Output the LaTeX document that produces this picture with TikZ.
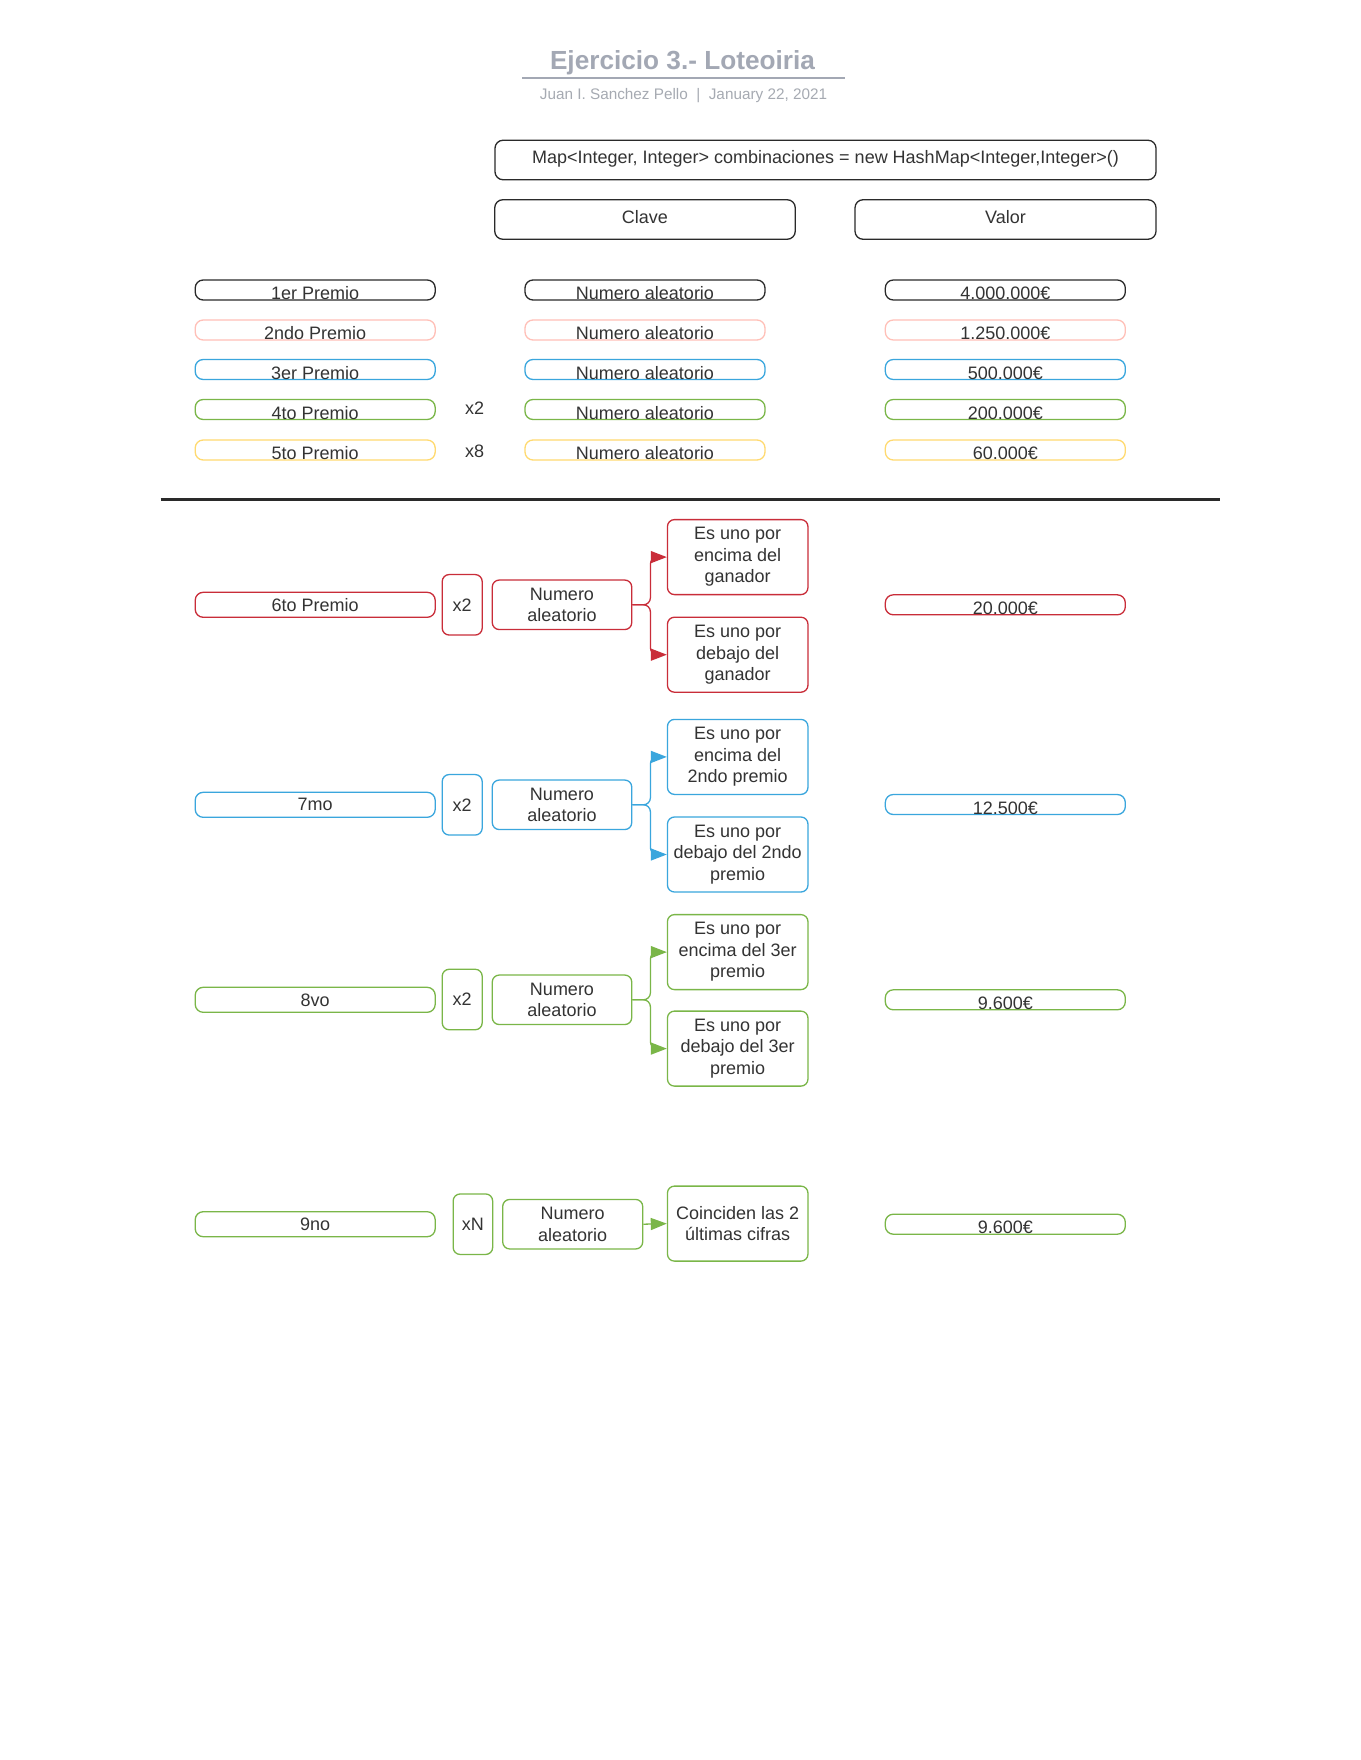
\documentclass[tikz,border=0pt]{standalone}
\usepackage{fontspec}
\setmainfont{Liberation Sans}
\usetikzlibrary{arrows.meta}
\definecolor{txt}{HTML}{333333}
\definecolor{titlegray}{HTML}{A3A8B4}
\definecolor{subgray}{HTML}{A6AAB2}
\definecolor{cblack}{HTML}{2A2A2A}
\definecolor{cpink}{HTML}{FFC0B8}
\definecolor{cblue}{HTML}{3AA6DD}
\definecolor{cgreen}{HTML}{7AB648}
\definecolor{cyellow}{HTML}{FFDA70}
\definecolor{cred}{HTML}{C92D39}
\tikzset{
  basebox/.style={draw, line width=1.3pt, text=txt, inner sep=0pt, font=\fontsize{18}{21.5}\selectfont},
  rowbox/.style={basebox, draw=#1, rounded corners=8, minimum width=240, minimum height=20, text height=19pt, text depth=0pt},
  headbox/.style={basebox, draw=cblack, rounded corners=8, minimum height=39.5, text height=13pt, text depth=5pt},
  premiobox/.style={basebox, draw=#1, rounded corners=8, minimum width=240, minimum height=25},
  multbox/.style={basebox, draw=#1, rounded corners=7, minimum width=40, minimum height=60.5},
  numbox/.style={basebox, draw=#1, rounded corners=7, minimum width=139.5, minimum height=49.5, align=center},
  condbox/.style={basebox, draw=#1, rounded corners=7, minimum width=140.5, minimum height=75, align=center},
  plain/.style={text=txt, inner sep=0pt, font=\fontsize{18}{21.5}\selectfont},
  conn/.style={draw=#1, line width=1.3pt, rounded corners=7, -{Triangle[length=16pt,width=12pt]}},
}
\begin{document}
\begin{tikzpicture}[x=1pt,y=-1pt]
\useasboundingbox[fill=white] (0,0) rectangle (1360,1760);

% title block
\node[anchor=base, text=titlegray, inner sep=0pt, font=\bfseries\fontsize{26.2}{30}\selectfont] (title) at (682.5,69.5) {Ejercicio 3.- Loteoiria};
\coordinate (ulA) at (522,78.5);
\coordinate (ulB) at (845,78.5);
\draw[titlegray, line width=2pt] (ulA) -- (ulB);
\node[anchor=base, text=subgray, inner sep=0pt, font=\fontsize{15.3}{18}\selectfont] (sub) at (683.5,99.6) {Juan I. Sanchez Pello~~|~~January 22, 2021};

% separator
\coordinate (sepA) at (160.5,499.5);
\coordinate (sepB) at (1220,499.5);
\draw[cblack, line width=3.4pt] (sepA) -- (sepB);

\begin{scope}[xshift=1pt]
% header boxes
\node[headbox, minimum width=661] (map) at (824.5,160) {Map<Integer, Integer> combinaciones = new HashMap<Integer,Integer>()};
\node[headbox, minimum width=300.5] (clave) at (644,219.5) {Clave};
\node[headbox, minimum width=301] (valor) at (1004.5,219.5) {Valor};

% prize rows 1-5
\node[rowbox=cblack] (r1a) at (314.2,290) {1er Premio};
\node[rowbox=cblack] (r1b) at (644,290) {Numero aleatorio};
\node[rowbox=cblack] (r1c) at (1004.3,290) {4.000.000€};

\node[rowbox=cpink] (r2a) at (314.2,330) {2ndo Premio};
\node[rowbox=cpink] (r2b) at (644,330) {Numero aleatorio};
\node[rowbox=cpink] (r2c) at (1004.3,330) {1.250.000€};

\node[rowbox=cblue] (r3a) at (314.2,369.5) {3er Premio};
\node[rowbox=cblue] (r3b) at (644,369.5) {Numero aleatorio};
\node[rowbox=cblue] (r3c) at (1004.3,369.5) {500.000€};

\node[rowbox=cgreen] (r4a) at (314.2,409.5) {4to Premio};
\node[plain] (r4x) at (473.5,408.5) {x2};
\node[rowbox=cgreen] (r4b) at (644,409.5) {Numero aleatorio};
\node[rowbox=cgreen] (r4c) at (1004.3,409.5) {200.000€};

\node[rowbox=cyellow] (r5a) at (314.2,450) {5to Premio};
\node[plain] (r5x) at (473.5,451) {x8};
\node[rowbox=cyellow] (r5b) at (644,450) {Numero aleatorio};
\node[rowbox=cyellow] (r5c) at (1004.3,450) {60.000€};

% 6to premio
\node[premiobox=cred] (p6) at (314.2,604.8) {6to Premio};
\node[multbox=cred] (m6) at (461.2,604.8) {x2};
\node[numbox=cred] (n6) at (561,604.8) {Numero\\aleatorio};
\node[condbox=cred] (u6) at (736.7,557.1) {Es uno por\\encima del\\ganador};
\node[condbox=cred] (d6) at (736.7,654.7) {Es uno por\\debajo del\\ganador};
\node[rowbox=cred] (v6) at (1004.3,604.8) {20.000€};
\draw[conn=cred] (n6.east) -- ++(18,0) |- (u6.west);
\draw[conn=cred] (n6.east) -- ++(18,0) |- (d6.west);

% 7mo
\node[premiobox=cblue] (p7) at (314.2,804.8) {7mo};
\node[multbox=cblue] (m7) at (461.2,804.8) {x2};
\node[numbox=cblue] (n7) at (561,804.8) {Numero\\aleatorio};
\node[condbox=cblue] (u7) at (736.7,756.9) {Es uno por\\encima del\\2ndo premio};
\node[condbox=cblue] (d7) at (736.7,854.5) {Es uno por\\debajo del 2ndo\\premio};
\node[rowbox=cblue] (v7) at (1004.3,804.5) {12.500€};
\draw[conn=cblue] (n7.east) -- ++(18,0) |- (u7.west);
\draw[conn=cblue] (n7.east) -- ++(18,0) |- (d7.west);

% 8vo
\node[premiobox=cgreen] (p8) at (314.2,999.8) {8vo};
\node[multbox=cgreen] (m8) at (461.2,999.5) {x2};
\node[numbox=cgreen] (n8) at (561,999.8) {Numero\\aleatorio};
\node[condbox=cgreen] (u8) at (736.7,952.1) {Es uno por\\encima del 3er\\premio};
\node[condbox=cgreen] (d8) at (736.7,1048.6) {Es uno por\\debajo del 3er\\premio};
\node[rowbox=cgreen] (v8) at (1004.3,999.8) {9.600€};
\draw[conn=cgreen] (n8.east) -- ++(18,0) |- (u8.west);
\draw[conn=cgreen] (n8.east) -- ++(18,0) |- (d8.west);

% 9no
\node[premiobox=cgreen] (p9) at (314.2,1224.2) {9no};
\node[multbox=cgreen, minimum width=39.5] (m9) at (471.9,1224.2) {xN};
\node[numbox=cgreen, minimum width=140] (n9) at (571.7,1224.2) {Numero\\aleatorio};
\node[condbox=cgreen] (c9) at (736.7,1223.6) {Coinciden las 2\\últimas cifras};
\node[rowbox=cgreen] (v9) at (1004.3,1224.2) {9.600€};
\draw[conn=cgreen] (n9.east) -- (c9.west);
\end{scope}
\end{tikzpicture}
\end{document}
